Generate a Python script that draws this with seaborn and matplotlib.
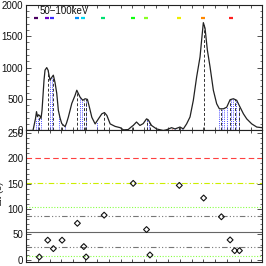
import numpy as np
import pandas as pd
import matplotlib
matplotlib.use("Agg")
import matplotlib.pyplot as plt
import seaborn as sns
from matplotlib.ticker import MultipleLocator, NullFormatter

# ---------------- data ----------------
curve_t = [0.0, 0.593, 0.805, 0.890, 0.975, 1.059, 1.186, 1.271, 1.356, 1.441, 1.525, 1.610,
           1.754, 1.864, 2.034, 2.161, 2.314, 2.458, 2.602, 2.737, 2.881, 3.025, 3.305, 3.432,
           3.585, 3.873, 4.153, 4.297, 4.449, 4.576, 4.805, 5.000, 5.195, 5.364, 5.568, 5.847,
           6.127, 6.415, 6.636, 6.839, 7.119, 7.542, 7.966, 8.246, 8.644, 8.958, 9.068, 9.347,
           9.636, 9.915, 10.195, 10.339, 10.619, 11.042, 11.610, 11.864, 12.314, 12.602, 13.025,
           13.305, 13.585, 13.873, 14.153, 14.432, 14.720, 14.856, 15.000, 15.144, 15.339,
           15.568, 15.847, 16.127, 16.356, 16.695, 16.975, 17.263, 17.542, 17.822, 18.110,
           18.390, 18.669, 19.093, 19.517, 19.941, 20.0]
curve_counts = [0, 0, 190, 300, 220, 250, 230, 190, 320, 560, 800, 960,
                1000, 960, 800, 840, 880, 760, 590, 320, 200, 110, 60, 120,
                215, 430, 560, 640, 580, 530, 480, 505, 495, 370, 210, 105,
                185, 265, 285, 240, 105, 65, 45, 10, 15, 65, 80, 135,
                80, 110, 185, 170, 80, 25, 0, 10, 45, 25, 55,
                25, 105, 215, 480, 850, 1170, 1440, 1715, 1625, 1280,
                1010, 640, 425, 345, 345, 370, 490, 505, 480, 370,
                265, 185, 105, 55, 45, 45]

pulse_t = [1.127, 1.839, 2.314, 3.051, 4.347, 4.890, 5.085, 6.610, 9.068, 10.195, 10.483,
           12.966, 15.025, 16.525, 17.263, 17.653, 18.051]
pulse_lag = [5.5, 38.6, 22, 38.6, 72, 26, 5.5, 88, 150.7, 59.6, 9.5,
             146.7, 121.8, 84.8, 39.2, 18, 18]

edge_t = [0.805, 0.975, 1.229, 1.992, 2.161, 2.797, 3.263, 4.576, 4.703, 5.042, 5.975,
          10.254, 10.381, 12.585, 13.178, 16.356, 16.568, 16.780, 16.992, 17.373, 17.542,
          17.754, 18.008]

tag_t = [0.847, 1.754, 2.229, 4.297, 4.805, 6.500, 9.042, 10.144, 12.907, 14.975, 17.347]
tag_colors = ["#4a0060", "#6a00c8", "#3a2cff", "#0090ff", "#00d8f0", "#00e070",
              "#10ff10", "#88ff22", "#eeee00", "#ff8800", "#ff2020"]
tag_level = 1790

h_levels = [200, 150.7, 104, 87, 55.6, 24.5, 8]
h_colors = ["#ff4040", "#ccee00", "#88ff44", "#777777", "#666666", "#777777", "#88ff44"]
h_styles = [(0, (5, 3)), (0, (5, 2, 1, 2)), (0, (1, 1.5)), (0, (5, 2, 1, 2, 1, 2, 1, 2)),
            "-", (0, (5, 2, 1, 2, 1, 2, 1, 2)), (0, (1, 1.5))]

band_label = "50\u2212100keV"
ylabel_bottom = "\u0394t (s)"

# ---------------- figure ----------------
sns.set_style("ticks")
plt.rcParams["font.family"] = ["Liberation Sans", "DejaVu Sans"]
plt.rcParams["font.size"] = 7

fig = plt.figure(figsize=(2.66, 2.66), dpi=100)
ax1 = fig.add_axes([0.0977, 0.5094, 0.889, 0.4729])
ax2 = fig.add_axes([0.0977, 0.0139, 0.889, 0.4955])

df = pd.DataFrame({"t": curve_t, "counts": curve_counts})
sns.lineplot(data=df, x="t", y="counts", ax=ax1, color="#222222", lw=0.9, zorder=5)

ct = np.array(curve_t)
cc = np.array(curve_counts)
for t in edge_t:
    ax1.vlines(t, 0, np.interp(t, ct, cc), colors="#4a4aff", linestyles=(0, (1, 1.2)), lw=0.7)
for t in pulse_t:
    ax1.vlines(t, 0, np.interp(t, ct, cc), colors="#333333", linestyles=(0, (3, 2)), lw=0.7)
ax1.vlines(12.33, 0, np.interp(12.33, ct, cc), colors="#ff6060", linestyles=(0, (1, 1.2)), lw=0.8)

for t, c in zip(tag_t, tag_colors):
    ax1.plot([t], [tag_level], marker="_", ms=3.5, mew=1.6, color=c, ls="none")

ax1.text(0.059, 0.952, band_label, transform=ax1.transAxes, ha="left", va="center",
         fontsize=7, color="#111111")

ax1.set_xlim(0, 20)
ax1.set_ylim(0, 2000)
ax1.yaxis.set_major_locator(MultipleLocator(500))
ax1.yaxis.set_minor_locator(MultipleLocator(100))

# bottom panel
for lv, c, ls in zip(h_levels, h_colors, h_styles):
    ax2.axhline(lv, color=c, ls=ls, lw=0.8)
dfp = pd.DataFrame({"t": pulse_t, "lag": pulse_lag})
sns.scatterplot(data=dfp, x="t", y="lag", ax=ax2, marker="D", s=9, facecolor="none",
                edgecolor="#111111", linewidth=0.8, zorder=5)
ax2.set_xlim(0, 20)
ax2.set_ylim(-5, 255)
ax2.yaxis.set_major_locator(MultipleLocator(50))
ax2.yaxis.set_minor_locator(MultipleLocator(10))

for ax in (ax1, ax2):
    ax.set_xlabel("")
    ax.set_ylabel("")
    ax.xaxis.set_major_locator(MultipleLocator(1))
    ax.xaxis.set_major_formatter(NullFormatter())
    ax.tick_params(which="both", direction="in", top=True, right=True, colors="#333333",
                   labelcolor="#111111", labelsize=7, pad=2)
    ax.tick_params(which="major", length=3.5, width=0.6)
    ax.tick_params(which="minor", length=1.8, width=0.5)
    ax.tick_params(axis="x", which="major", length=2.5)
    for s in ax.spines.values():
        s.set_linewidth(0.8)
        s.set_color("#222222")

ax2.set_ylabel(ylabel_bottom, fontsize=7)
ax2.yaxis.set_label_coords(-0.093, 0.52)

fig.savefig("out.png", dpi=100)
